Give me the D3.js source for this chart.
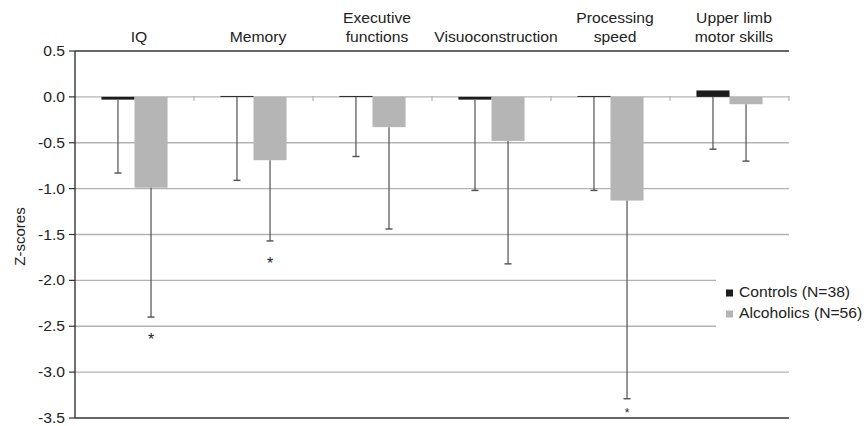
<!DOCTYPE html>
<html>
<head>
<meta charset="utf-8">
<script src="https://cdn.jsdelivr.net/npm/d3@7"></script>
<style>
  html, body { margin: 0; padding: 0; background: #fff; }
  svg { display: block; font-family: "Liberation Sans", Arial, sans-serif; }
</style>
</head>
<body>
<svg id="chart" width="864" height="426"></svg>
<script>
// Neuropsychological domains (z-scores), controls vs. alcoholics
const categories = ["IQ", "Memory", "Executive functions", "Visuoconstruction", "Processing speed", "Upper limb motor skills"];
const categoryLines = [["IQ"], ["Memory"], ["Executive", "functions"], ["Visuoconstruction"], ["Processing", "speed"], ["Upper limb", "motor skills"]];
const groups = ["Controls (N=38)", "Alcoholics (N=56)"];

const controlMeans = [-0.03, 0.01, 0.01, -0.03, 0.01, 0.07];
const controlSD = [0.80, 0.92, 0.66, 0.99, 1.03, 0.64];
const alcoholicMeans = [-0.99, -0.69, -0.33, -0.48, -1.13, -0.08];
const alcoholicSD = [1.41, 0.88, 1.11, 1.34, 2.16, 0.62];
const significant = [true, true, false, false, true, false];

const yTicks = [0.5, 0.0, -0.5, -1.0, -1.5, -2.0, -2.5, -3.0, -3.5];
const yLabel = "Z-scores";

const colors = ["#1c1c1c", "#b5b5b5"];
const textColor = "#222";
const gridColor = "#b3b3b3";
const axisColor = "#333";
const stretch = 1.12;
const fontSize = 14;

const svg = d3.select("#chart");
const margin = { left: 75, right: 75, top: 51, bottom: 8 };
const W = 864, H = 426;

const x = d3.scaleBand().domain(categories).range([margin.left, W - margin.right]).padding(0);
const xs = d3.scaleBand().domain(groups).range([0, x.bandwidth()]).paddingInner(0).paddingOuter(0.8);
const y = d3.scaleLinear().domain([-3.5, 0.5]).range([H - margin.bottom, margin.top]);

const rows = categories.map((c, i) => ({
  cat: c,
  values: [
    { g: groups[0], mean: controlMeans[i], sd: controlSD[i], sig: false },
    { g: groups[1], mean: alcoholicMeans[i], sd: alcoholicSD[i], sig: significant[i] }
  ]
}));

// horizontal gridlines (legend area masks some of them later)
svg.append("g")
  .selectAll("line")
  .data(yTicks.filter(t => t !== 0.5 && t !== -3.5))
  .join("line")
  .attr("x1", margin.left).attr("x2", W - margin.right)
  .attr("y1", d => y(d)).attr("y2", d => y(d))
  .attr("stroke", gridColor).attr("stroke-width", 1.4);

// small marks on the zero line between categories
const bounds = categories.slice(1).map(c => x(c)).concat([x.range()[1]]);
svg.append("g")
  .selectAll("line")
  .data(bounds)
  .join("line")
  .attr("x1", d => d).attr("x2", d => d)
  .attr("y1", y(0) - 1).attr("y2", y(0) + 4)
  .attr("stroke", gridColor).attr("stroke-width", 1.2);

// bars
const catG = svg.append("g").selectAll("g")
  .data(rows)
  .join("g")
  .attr("transform", d => `translate(${x(d.cat)},0)`);

catG.selectAll("rect")
  .data(d => d.values)
  .join("rect")
  .attr("x", d => xs(d.g))
  .attr("width", xs.bandwidth())
  .attr("y", d => y(Math.max(0, d.mean)))
  .attr("height", d => Math.abs(y(d.mean) - y(0)))
  .attr("fill", (d, i) => colors[i]);

// one-sided error bars (mean down to mean - SD)
const capW = 7;
const eb = catG.selectAll("g.eb")
  .data(d => d.values)
  .join("g").attr("class", "eb");
eb.append("line")
  .attr("x1", d => xs(d.g) + xs.bandwidth() / 2)
  .attr("x2", d => xs(d.g) + xs.bandwidth() / 2)
  .attr("y1", d => y(Math.min(0, d.mean)))
  .attr("y2", d => y(d.mean - d.sd))
  .attr("stroke", "#505050").attr("stroke-width", 1.2);
eb.append("line")
  .attr("x1", d => xs(d.g) + xs.bandwidth() / 2 - capW / 2)
  .attr("x2", d => xs(d.g) + xs.bandwidth() / 2 + capW / 2)
  .attr("y1", d => y(d.mean - d.sd))
  .attr("y2", d => y(d.mean - d.sd))
  .attr("stroke", "#505050").attr("stroke-width", 1.4);

// significance markers (squeezed above the bottom line when space is short)
const bottomY = y(-3.5);
const tight = d => y(d.mean - d.sd) + 28 > bottomY - 1;
eb.filter(d => d.sig)
  .append("text")
  .attr("x", d => xs(d.g) + xs.bandwidth() / 2)
  .attr("y", d => tight(d) ? bottomY - 1 : y(d.mean - d.sd) + 28)
  .attr("text-anchor", "middle")
  .attr("font-size", d => tight(d) ? 12 : 16)
  .attr("fill", textColor)
  .text("*");

// frame: left axis, top and bottom lines
svg.append("line")
  .attr("x1", margin.left).attr("x2", margin.left)
  .attr("y1", y(0.5)).attr("y2", y(-3.5))
  .attr("stroke", axisColor).attr("stroke-width", 1.4);
[0.5, -3.5].forEach(v => {
  svg.append("line")
    .attr("x1", margin.left).attr("x2", W - margin.right)
    .attr("y1", y(v)).attr("y2", y(v))
    .attr("stroke", axisColor).attr("stroke-width", 1.4);
});

// y ticks and labels
const yAxis = svg.append("g");
yAxis.selectAll("line")
  .data(yTicks)
  .join("line")
  .attr("x1", margin.left - 6).attr("x2", margin.left)
  .attr("y1", d => y(d)).attr("y2", d => y(d))
  .attr("stroke", axisColor).attr("stroke-width", 1.2);
yAxis.selectAll("text")
  .data(yTicks)
  .join("text")
  .attr("transform", d => `translate(${margin.left - 10},${y(d) + 5}) scale(${stretch},1)`)
  .attr("text-anchor", "end")
  .attr("font-size", fontSize)
  .attr("fill", textColor)
  .text(d => d.toFixed(1));

svg.append("text")
  .attr("transform", `translate(25,${(y(0.5) + y(-3.5)) / 2 + 2}) rotate(-90)`)
  .attr("text-anchor", "middle")
  .attr("font-size", 15)
  .attr("fill", textColor)
  .text(yLabel);

// category labels above the plot
const labG = svg.append("g").selectAll("text")
  .data(categories)
  .join("text")
  .attr("transform", d => `translate(${x(d) + x.bandwidth() / 2 + 4.5},42) scale(${stretch},1)`)
  .attr("text-anchor", "middle")
  .attr("font-size", fontSize)
  .attr("fill", textColor);
labG.each(function (d, i) {
  const lines = categoryLines[i];
  d3.select(this).selectAll("tspan")
    .data(lines)
    .join("tspan")
    .attr("x", 0)
    .attr("y", (l, j) => (j - (lines.length - 1)) * 19)
    .text(l => l);
});

// legend
const lg = svg.append("g");
lg.append("rect")
  .attr("x", 716).attr("y", 268).attr("width", W - 716).attr("height", 68)
  .attr("fill", "#fff");
const items = lg.selectAll("g.item")
  .data(groups)
  .join("g").attr("class", "item")
  .attr("transform", (d, i) => `translate(726,${289.5 + i * 21})`);
items.append("rect")
  .attr("width", 7).attr("height", 7)
  .attr("fill", (d, i) => colors[i]);
items.append("text")
  .attr("transform", `translate(13,7.5) scale(${stretch},1)`)
  .attr("font-size", fontSize)
  .attr("fill", textColor)
  .text(d => d);
</script>
</body>
</html>
